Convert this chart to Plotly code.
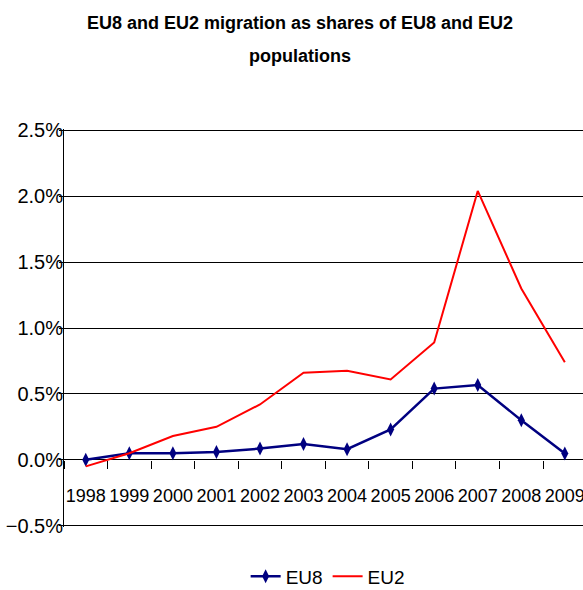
import plotly.graph_objects as go

# Annual migration as a share of the sending populations
years = ["1998", "1999", "2000", "2001", "2002", "2003",
         "2004", "2005", "2006", "2007", "2008", "2009"]
eu8_share = [0.0000, 0.0005, 0.0005, 0.0006, 0.00085, 0.0012,
             0.0008, 0.0023, 0.0054, 0.00567, 0.0030, 0.00047]
eu2_share = [-0.0005, 0.0005, 0.0018, 0.0025, 0.0042, 0.0066,
             0.00675, 0.0061, 0.0089, 0.0204, 0.0130, 0.0074]

y_min, y_max, y_step = -0.005, 0.025, 0.005
pad = 0.0001  # keeps the edge gridlines inside the plotted range

FONT = "Liberation Sans Narrow, Arial Narrow, Liberation Sans, Arial, sans-serif"
TITLE_LINES = ["EU8 and EU2 migration as shares of EU8 and EU2", "populations"]

fig = go.Figure()
fig.add_trace(go.Scatter(
    x=years, y=eu8_share, name="EU8", mode="lines+markers",
    line=dict(color="#000080", width=2.5),
    marker=dict(symbol="diamond-tall", size=10, color="#000080"),
))
fig.add_trace(go.Scatter(
    x=years, y=eu2_share, name="EU2", mode="lines",
    line=dict(color="#FF0000", width=2),
))

# the category axis sits on the zero line
zero_pos = (0 - (y_min - pad)) / ((y_max + pad) - (y_min - pad))

# glyphs at 18px on a wider line pitch
title_html = "<br>".join(
    f"<span style='font-size:18px'>{line}</span>" for line in TITLE_LINES)

fig.update_layout(
    width=583, height=590,
    margin=dict(l=64, r=0, t=129, b=63, autoexpand=False),
    paper_bgcolor="white", plot_bgcolor="white",
    font=dict(family=FONT, color="black", size=20),
    title=dict(
        text=f"<b>{title_html}</b>",
        x=300 / 583, xanchor="center", xref="container",
        y=1 - 29 / 590, yanchor="top", yref="container",
        font=dict(family=FONT, size=25, color="black"),
    ),
    showlegend=True,
    legend=dict(
        orientation="h", x=0.508, xanchor="center",
        y=-0.124, yanchor="middle",
        font=dict(family=FONT, size=19, color="black"),
        bgcolor="rgba(0,0,0,0)",
    ),
    xaxis=dict(
        type="category",
        range=[-0.5, 11.417],
        anchor="free", position=zero_pos,
        showgrid=False, zeroline=False,
        showline=False,
        ticks="outside", tickson="boundaries", ticklen=8,
        tickcolor="black", tickwidth=1,
        tickangle=0,
        ticklabelstandoff=23,
        tickfont=dict(family=FONT, size=18, color="black"),
    ),
    yaxis=dict(
        range=[y_min - pad, y_max + pad], dtick=y_step, tick0=0,
        tickformat=".1%",
        showgrid=True, gridcolor="black", gridwidth=1,
        zeroline=True, zerolinecolor="black", zerolinewidth=1,
        showline=True, linecolor="black", linewidth=1,
        ticks="outside", ticklen=4, tickcolor="black",
        ticklabelstandoff=-8,
        tickfont=dict(family=FONT, size=20, color="black"),
    ),
)

fig.write_html("out.html")
